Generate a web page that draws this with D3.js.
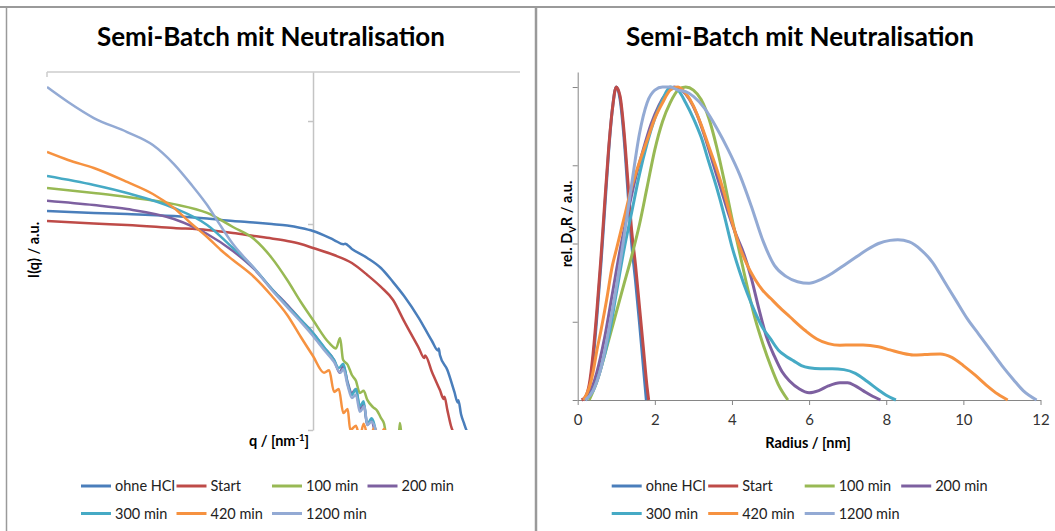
<!DOCTYPE html>
<html><head><meta charset="utf-8">
<script src="https://cdn.jsdelivr.net/npm/d3@7"></script>
<style>
body{margin:0;background:#fff}
svg{display:block}
text{font-family:Lato,"Liberation Sans",sans-serif}
</style>
</head><body>
<svg id="c" width="1055" height="531"></svg>
<script>
// ---------- shared ----------
const seriesNames  = ["ohne HCl","Start","100 min","200 min","300 min","420 min","1200 min"];
const seriesColors = ["#4A7EBB","#BE4B48","#98B954","#7D60A0","#46AAC5","#F69240","#93AAD4"];
const chartTitle = "Semi-Batch mit Neutralisation";

// ---------- left chart: I(q) vs q (log-log), [q, I] ----------
const scatOhneHCl = [[0.1,133.7],[0.15,127.9],[0.2,125.1],[0.3,119.6],[0.4,113.1],[0.5,106.9],[0.6,103.4],[0.7,100],[0.8,96.7],[0.9,91.5],[1.0,85.5],[1.2,69.9],[1.3,63.5],[1.32,64.5],[1.4,57.2],[1.6,46.8],[1.8,37.4],[2.0,27.3],[2.2,20.0],[2.5,12.2],[2.8,7.31],[2.95,5.9],[2.97,6.2],[3.0,5.35],[3.2,3.82],[3.4,2.34],[3.5,1.85],[3.52,1.95],[3.6,1.43],[3.7,1.15],[3.8,0.956],[3.85,0.9]];
const scatStart = [[0.1,106.9],[0.15,101.1],[0.2,97.8],[0.3,91.5],[0.4,87.5],[0.5,81.8],[0.6,76.5],[0.7,72.3],[0.8,68.4],[0.9,63.9],[1.0,58.5],[1.2,50.0],[1.4,41.8],[1.6,32.0],[1.8,24.5],[2.0,18.3],[2.2,11.4],[2.5,6.25],[2.62,5.0],[2.64,5.3],[2.8,3.66],[3.0,2.44],[3.1,2.0],[3.12,2.1],[3.2,1.56],[3.3,1.1],[3.4,0.9]];
const scat100 = [[0.1,224],[0.15,200],[0.2,183],[0.3,156],[0.4,128],[0.5,93.5],[0.6,71.5],[0.7,46.8],[0.8,28.6],[0.9,17.5],[1.0,11.7],[1.15,7.0],[1.22,6.2],[1.264,7.8],[1.297,4.8],[1.35,4.3],[1.4,3.42],[1.45,3.0],[1.5,2.29],[1.55,2.4],[1.6,1.96],[1.68,1.67],[1.74,1.55],[1.8,1.31],[1.85,1.15],[1.9,0.8],[2.09,0.72],[2.12,1.17],[2.16,0.72]];
const scat200 = [[0.1,168.4],[0.15,152.9],[0.2,139.8],[0.3,111.8],[0.4,80.0],[0.5,54.7],[0.6,36.6],[0.7,23.4],[0.8,16.4],[0.9,11.7],[1.0,8.74],[1.1,6.3],[1.2,4.78],[1.26,3.6],[1.3,4.2],[1.35,2.9],[1.4,2.29],[1.45,2.5],[1.5,1.6],[1.55,1.8],[1.6,1.12],[1.65,1.25],[1.72,0.85]];
const scat300 = [[0.1,292.4],[0.15,239.1],[0.2,200],[0.3,143.0],[0.4,97.8],[0.5,58.5],[0.6,37.4],[0.7,23.4],[0.8,16.0],[0.9,11.7],[1.0,8.74],[1.1,6.4],[1.2,4.78],[1.25,4.0],[1.3,4.4],[1.35,2.8],[1.4,2.19],[1.45,2.5],[1.5,1.7],[1.55,1.9],[1.6,1.12],[1.66,1.3],[1.74,0.85]];
const scat420 = [[0.1,500],[0.12,418],[0.15,350],[0.2,256],[0.25,195.6],[0.3,143],[0.35,100],[0.4,74.8],[0.45,55.9],[0.5,44.7],[0.6,30.6],[0.7,20.0],[0.8,13.1],[0.9,8.0],[1.0,5.23],[1.1,3.6],[1.15,3.8],[1.2,2.34],[1.25,2.5],[1.3,1.46],[1.35,1.6],[1.38,1.0],[1.45,1.1],[1.5,0.85],[1.55,1.15],[1.62,0.8],[1.7,1.05],[1.78,0.85],[1.85,1.02],[1.9,0.8]];
const scat1200 = [[0.1,2138],[0.12,1529],[0.15,1069],[0.2,782],[0.25,585],[0.3,382],[0.35,239],[0.4,153],[0.45,95.6],[0.5,63.9],[0.6,37.4],[0.7,22.9],[0.8,15.6],[0.9,11.2],[1.0,8.18],[1.1,6.0],[1.2,4.57],[1.27,3.6],[1.3,3.9],[1.35,2.7],[1.4,2.05],[1.45,2.2],[1.5,1.5],[1.56,1.7],[1.6,1.12],[1.66,1.2],[1.75,0.85]];
const scatSeries = [scatOhneHCl,scatStart,scat100,scat200,scat300,scat420,scat1200];
const intensityTicks = [1,10,100,1000];

// ---------- right chart: rel. DvR vs radius, [r, v] ----------
const distOhneHCl = [[0.15,0],[0.3,0.04],[0.4,0.13],[0.5,0.27],[0.6,0.43],[0.7,0.61],[0.8,0.79],[0.9,0.93],[1.0,1.0],[1.1,0.96],[1.2,0.84],[1.3,0.67],[1.4,0.5],[1.5,0.38],[1.6,0.25],[1.7,0.11],[1.78,0]];
const distStart = [[0.1,0],[0.2,0.01],[0.3,0.05],[0.4,0.15],[0.5,0.29],[0.6,0.45],[0.7,0.63],[0.8,0.8],[0.9,0.93],[1.0,1.0],[1.1,0.97],[1.2,0.86],[1.3,0.7],[1.4,0.54],[1.5,0.43],[1.6,0.3],[1.7,0.17],[1.8,0.04],[1.84,0]];
const dist100 = [[0.3,0],[0.5,0.06],[0.8,0.19],[1.0,0.28],[1.2,0.37],[1.4,0.46],[1.6,0.56],[1.8,0.68],[2.0,0.8],[2.2,0.89],[2.4,0.95],[2.6,0.99],[2.8,1.0],[3.0,0.99],[3.2,0.96],[3.4,0.9],[3.6,0.81],[3.8,0.7],[4.0,0.58],[4.2,0.47],[4.4,0.36],[4.6,0.26],[4.8,0.18],[5.0,0.11],[5.2,0.05],[5.45,0]];
const dist200 = [[0.15,0],[0.3,0.02],[0.5,0.09],[0.7,0.2],[0.9,0.34],[1.1,0.48],[1.3,0.6],[1.5,0.71],[1.7,0.8],[1.9,0.88],[2.1,0.94],[2.3,0.98],[2.5,1.0],[2.7,0.99],[2.9,0.96],[3.1,0.91],[3.3,0.84],[3.5,0.76],[3.7,0.68],[3.9,0.6],[4.1,0.53],[4.3,0.47],[4.5,0.39],[4.7,0.29],[4.9,0.2],[5.1,0.14],[5.3,0.09],[5.5,0.06],[5.75,0.035],[6.0,0.023],[6.25,0.03],[6.5,0.045],[6.8,0.055],[7.0,0.055],[7.2,0.045],[7.4,0.03],[7.6,0.015],[7.85,0]];
const dist300 = [[0.2,0],[0.4,0.03],[0.6,0.1],[0.8,0.2],[1.0,0.34],[1.2,0.48],[1.4,0.6],[1.6,0.72],[1.8,0.82],[2.0,0.9],[2.2,0.96],[2.4,1.0],[2.6,0.99],[2.8,0.95],[3.0,0.9],[3.2,0.84],[3.4,0.76],[3.6,0.68],[3.8,0.59],[4.0,0.49],[4.2,0.41],[4.4,0.34],[4.6,0.28],[4.8,0.23],[5.0,0.195],[5.2,0.16],[5.4,0.14],[5.6,0.125],[5.8,0.11],[6.0,0.103],[6.3,0.1],[6.6,0.1],[6.9,0.097],[7.2,0.085],[7.5,0.06],[7.8,0.032],[8.0,0.015],[8.25,0]];
const dist420 = [[0.15,0],[0.3,0.04],[0.4,0.09],[0.5,0.16],[0.6,0.22],[0.75,0.32],[0.9,0.43],[1.0,0.48],[1.2,0.58],[1.4,0.68],[1.6,0.76],[1.8,0.83],[2.0,0.9],[2.2,0.95],[2.4,0.99],[2.6,1.0],[2.8,0.98],[3.0,0.94],[3.2,0.88],[3.4,0.81],[3.6,0.74],[3.8,0.66],[4.0,0.57],[4.2,0.49],[4.4,0.43],[4.6,0.385],[4.8,0.35],[5.0,0.325],[5.2,0.3],[5.5,0.266],[5.9,0.222],[6.2,0.195],[6.5,0.18],[6.8,0.175],[7.1,0.176],[7.4,0.176],[7.8,0.17],[8.1,0.16],[8.4,0.15],[8.7,0.144],[9.0,0.145],[9.4,0.147],[9.7,0.136],[10.0,0.11],[10.3,0.08],[10.6,0.047],[10.9,0.018],[11.15,0]];
const dist1200 = [[0.2,0],[0.4,0.03],[0.6,0.1],[0.8,0.22],[1.0,0.36],[1.2,0.52],[1.4,0.69],[1.6,0.85],[1.8,0.95],[2.0,0.99],[2.2,1.0],[2.4,1.0],[2.6,0.99],[2.8,0.985],[3.0,0.97],[3.3,0.93],[3.6,0.87],[3.9,0.8],[4.2,0.72],[4.5,0.62],[4.8,0.51],[5.1,0.43],[5.4,0.395],[5.7,0.378],[6.0,0.373],[6.3,0.385],[6.6,0.405],[6.9,0.43],[7.2,0.455],[7.5,0.48],[7.8,0.5],[8.1,0.51],[8.3,0.512],[8.6,0.505],[8.9,0.48],[9.2,0.44],[9.5,0.38],[9.8,0.32],[10.1,0.26],[10.4,0.21],[10.7,0.16],[11.0,0.11],[11.3,0.065],[11.55,0.03],[11.9,0]];
const distSeries = [distOhneHCl,distStart,dist100,dist200,dist300,dist420,dist1200];
const radiusTicks = [0,2,4,6,8,10,12];
const distTicks = [0,0.25,0.5,0.75,1];

// ---------- drawing ----------
const svg = d3.select("#c");
const FONT = 'Lato,"Liberation Sans",sans-serif';

// frame lines
svg.append("line").attr("x1",0).attr("x2",1055).attr("y1",7).attr("y2",7).attr("stroke","#9a9a9a").attr("stroke-width",2);
svg.append("line").attr("x1",6.5).attr("x2",6.5).attr("y1",7).attr("y2",531).attr("stroke","#9a9a9a").attr("stroke-width",1.5);
svg.append("line").attr("x1",536).attr("x2",536).attr("y1",7).attr("y2",531).attr("stroke","#9a9a9a").attr("stroke-width",2.5);

function legend(x0, colStep){
  const g = svg.append("g");
  seriesNames.forEach((n,i)=>{
    const col = i<4 ? i : i-4, row = i<4 ? 0 : 1;
    const x = x0 + col*colStep, y = 486 + row*27.5;
    g.append("line").attr("x1",x).attr("x2",x+30).attr("y1",y).attr("y2",y)
      .attr("stroke",seriesColors[i]).attr("stroke-width",3);
    g.append("text").attr("x",x+34).attr("y",y).attr("dy","0.35em")
      .attr("font-size","14.5px").attr("fill","#222").text(n);
  });
}

// ===== left chart =====
{
  const x = d3.scaleLog().domain([0.1,6.0]).range([47,520]);
  const y = d3.scaleLog().domain([1,2992]).range([430,72]);
  svg.append("text").attr("x",271).attr("y",46).attr("text-anchor","middle")
    .attr("font-size","26px").attr("font-weight","bold").attr("fill","#000").text(chartTitle);
  // top (horizontal) axis line
  svg.append("line").attr("x1",x(0.1)).attr("x2",520).attr("y1",72).attr("y2",72).attr("stroke","#cccccc").attr("stroke-width",1.5);
  svg.append("line").attr("x1",x(0.1)).attr("x2",x(0.1)).attr("y1",72).attr("y2",77).attr("stroke","#cccccc").attr("stroke-width",1.5);
  // vertical axis at q = 1
  const ay = svg.append("g").attr("transform",`translate(${x(1)},0)`)
    .call(d3.axisLeft(y).tickValues(intensityTicks).tickSize(5).tickSizeOuter(0).tickFormat(""));
  ay.selectAll("path,line").attr("stroke","#c4c4c4").attr("stroke-width",1.5);
  svg.append("clipPath").attr("id","clipL").append("rect").attr("x",47).attr("y",72).attr("width",473).attr("height",358);
  const line = d3.line().x(d=>x(d[0])).y(d=>y(d[1])).curve(d3.curveMonotoneX);
  const gl = svg.append("g").attr("clip-path","url(#clipL)");
  scatSeries.forEach((s,i)=>{
    gl.append("path").attr("d",line(s)).attr("fill","none").attr("stroke",seriesColors[i])
      .attr("stroke-width",2.5).attr("stroke-linejoin","round");
  });
  svg.append("text").attr("transform","translate(39,250) rotate(-90)").attr("text-anchor","middle")
    .attr("font-size","14.5px").attr("font-weight","bold").attr("fill","#000").text("I(q) / a.u.");
  const qt = svg.append("text").attr("x",279).attr("y",446).attr("text-anchor","middle")
    .attr("font-size","14.5px").attr("font-weight","bold").attr("fill","#000");
  qt.append("tspan").text("q / [nm");
  qt.append("tspan").attr("font-size","9.5px").attr("dy","-5").text("-1");
  qt.append("tspan").attr("dy","5").text("]");
  legend(81, 95.5);
}

// ===== right chart =====
{
  const x = d3.scaleLinear().domain([0,12]).range([577.7,1040.5]);
  const y = d3.scaleLinear().domain([0,1.048]).range([400,72]);
  svg.append("text").attr("x",800).attr("y",46).attr("text-anchor","middle")
    .attr("font-size","26px").attr("font-weight","bold").attr("fill","#000").text(chartTitle);
  const ax = svg.append("g").attr("transform","translate(0,400)")
    .call(d3.axisBottom(x).tickValues(radiusTicks).tickSize(5).tickSizeOuter(0).tickPadding(9).tickFormat(d3.format("d")));
  ax.selectAll("path,line").attr("stroke","#868686").attr("stroke-width",1);
  ax.selectAll("text").attr("font-size","15px").attr("fill","#333").attr("font-family",FONT);
  const ay = svg.append("g").attr("transform",`translate(${x(0)},0)`)
    .call(d3.axisLeft(y).tickValues(distTicks).tickSize(5).tickSizeOuter(0).tickFormat(""));
  ay.selectAll("path,line").attr("stroke","#868686").attr("stroke-width",1);
  const line = d3.line().x(d=>x(d[0])).y(d=>y(d[1])).curve(d3.curveMonotoneX);
  distSeries.forEach((s,i)=>{
    svg.append("path").attr("d",line(s)).attr("fill","none").attr("stroke",seriesColors[i])
      .attr("stroke-width",3).attr("stroke-linejoin","round");
  });
  const yt = svg.append("text").attr("transform","translate(572,224) rotate(-90)").attr("text-anchor","middle")
    .attr("font-size","14.5px").attr("font-weight","bold").attr("fill","#000");
  yt.append("tspan").text("rel. D");
  yt.append("tspan").attr("font-size","9.5px").attr("dy","4").text("V");
  yt.append("tspan").attr("dy","-4").text("R / a.u.");
  svg.append("text").attr("x",808).attr("y",448).attr("text-anchor","middle")
    .attr("font-size","14.5px").attr("font-weight","bold").attr("fill","#000").text("Radius / [nm]");
  legend(611.7, 96.5);
}
</script>
</body></html>
